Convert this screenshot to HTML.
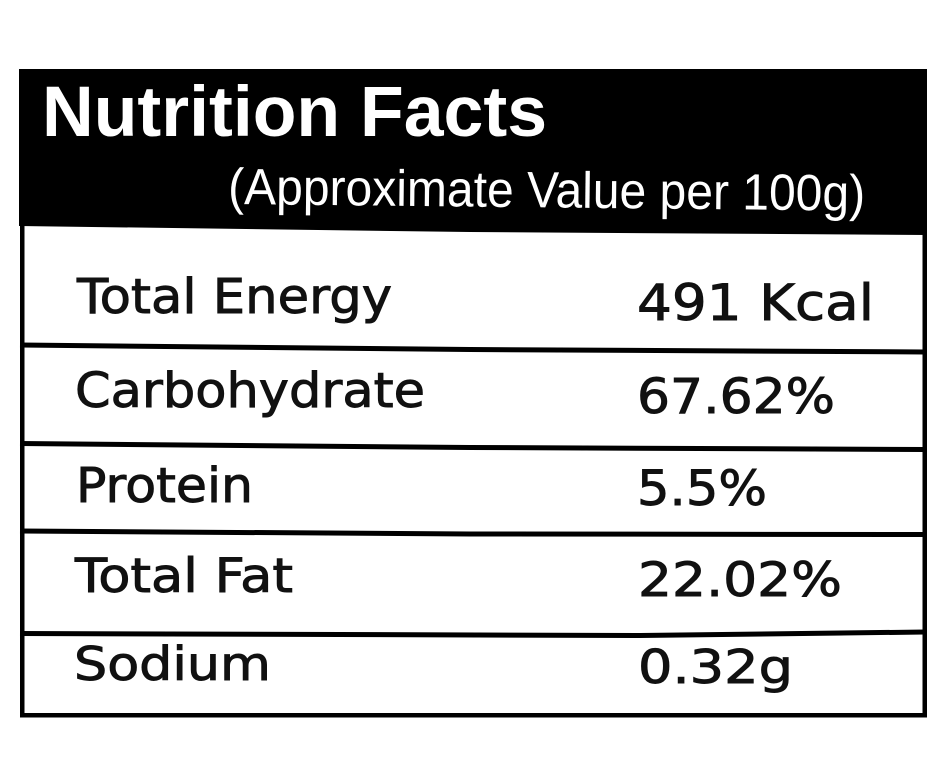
<!DOCTYPE html>
<html>
<head>
<meta charset="utf-8">
<style>
  html,body{margin:0;padding:0;background:#fff;}
  body{width:940px;height:778px;overflow:hidden;}
  svg{display:block;}
  .hd{font-family:"Liberation Sans",sans-serif;font-weight:bold;fill:#fff;}
  .sub{font-family:"Liberation Sans",sans-serif;fill:#fff;}
  .t{font-family:"DejaVu Sans","Liberation Sans",sans-serif;fill:#111;stroke:#111;stroke-width:0.9;}
</style>
</head>
<body>
<svg width="940" height="778" viewBox="0 0 940 778" xmlns="http://www.w3.org/2000/svg">
  <rect x="0" y="0" width="940" height="778" fill="#fff"/>
  <!-- header black -->
  <polygon points="19,69 927,69 927,235 470,232 19,226" fill="#000"/>
  <!-- outer borders -->
  <rect x="20" y="69" width="4.5" height="648" fill="#000"/>
  <rect x="922.5" y="69" width="4.5" height="648" fill="#000"/>
  <rect x="20" y="713" width="907" height="4.5" fill="#000"/>
  <!-- row separators -->
  <polyline points="20,345 470,349.5 925,352" fill="none" stroke="#000" stroke-width="5"/>
  <polyline points="20,443.5 470,447.5 925,449.5" fill="none" stroke="#000" stroke-width="5"/>
  <polyline points="20,531 470,534 925,534.5" fill="none" stroke="#000" stroke-width="5"/>
  <polyline points="20,633.5 640,635.5 925,632" fill="none" stroke="#000" stroke-width="5"/>

  <!-- header text -->
  <text class="hd" x="42" y="136" font-size="71" textLength="505" lengthAdjust="spacingAndGlyphs">Nutrition Facts</text>
  <text class="sub" x="228" y="204" font-size="51" textLength="637" lengthAdjust="spacingAndGlyphs" transform="rotate(0.6 228 204)">(Approximate Value per 100g)</text>

  <!-- rows -->
  <text class="t" x="77" y="313" font-size="48" textLength="315" lengthAdjust="spacingAndGlyphs">Total Energy</text>
  <text class="t" x="637" y="320" font-size="50" textLength="237" lengthAdjust="spacingAndGlyphs">491 Kcal</text>

  <text class="t" x="75" y="407" font-size="48" textLength="350" lengthAdjust="spacingAndGlyphs">Carbohydrate</text>
  <text class="t" x="637" y="413" font-size="48" textLength="198" lengthAdjust="spacingAndGlyphs">67.62%</text>

  <text class="t" x="76" y="502" font-size="48" textLength="177" lengthAdjust="spacingAndGlyphs">Protein</text>
  <text class="t" x="637" y="505" font-size="48" textLength="130" lengthAdjust="spacingAndGlyphs">5.5%</text>

  <text class="t" x="75" y="592" font-size="47" textLength="218" lengthAdjust="spacingAndGlyphs">Total Fat</text>
  <text class="t" x="638" y="596" font-size="47" textLength="204" lengthAdjust="spacingAndGlyphs">22.02%</text>

  <text class="t" x="74" y="680" font-size="46" textLength="197" lengthAdjust="spacingAndGlyphs">Sodium</text>
  <text class="t" x="638" y="683" font-size="46" textLength="155" lengthAdjust="spacingAndGlyphs">0.32g</text>
</svg>
</body>
</html>
